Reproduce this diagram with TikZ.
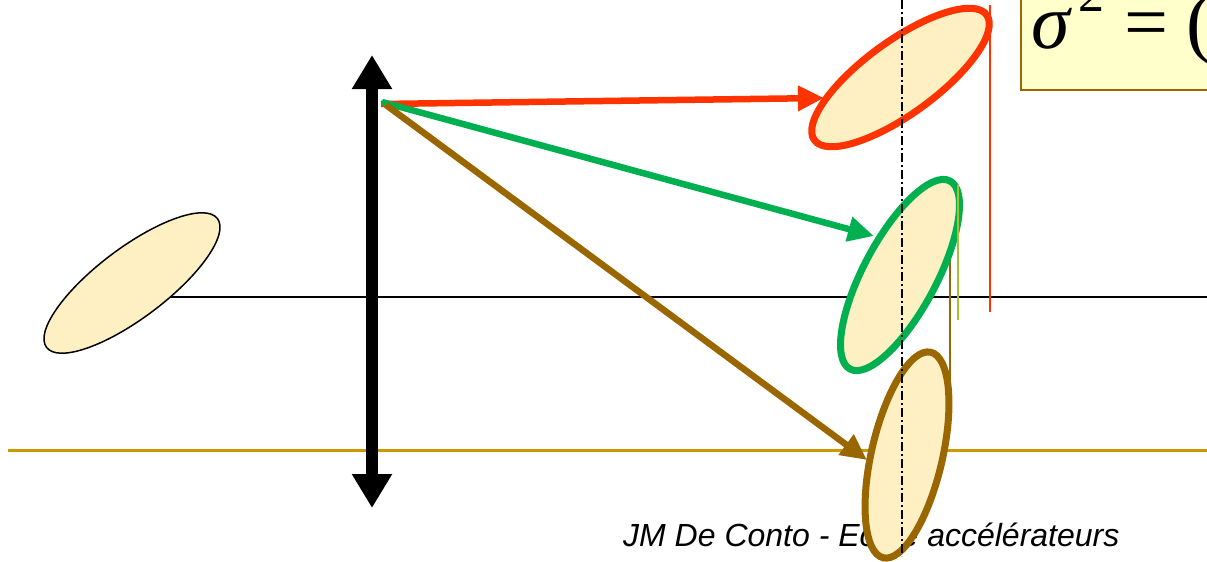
\documentclass[tikz,border=0pt]{standalone}
\usepackage{fontspec}
\setmainfont{Liberation Sans}
\newfontfamily\serifgr{Liberation Serif}
\usetikzlibrary{arrows.meta,shapes.geometric}
\definecolor{beam}{RGB}{255,240,195}
\definecolor{redc}{RGB}{255,51,0}
\definecolor{greenc}{RGB}{0,176,80}
\definecolor{brownc}{RGB}{153,102,0}
\definecolor{goldc}{RGB}{204,153,0}
\definecolor{olivec}{RGB}{170,190,50}
\definecolor{boxfill}{RGB}{255,255,204}
\tikzset{
  beamell/.style={ellipse, inner sep=0pt, fill=beam, line width=7pt},
  ray/.style={line width=6.5pt, -{Triangle[length=26pt,width=24pt]}},
  lensarrow/.style={line width=12pt, {Triangle[length=34pt,width=38pt]}-{Triangle[length=34pt,width=38pt]}},
  thinv/.style={line width=1.8pt},
}
\begin{document}
\begin{tikzpicture}[x=1pt,y=-1pt]
\useasboundingbox (0,0) rectangle (1207,562);
\clip (0,0) rectangle (1207,562);
% axes
\coordinate (axL) at (130,297);
\coordinate (axR) at (1207,297);
\coordinate (gL) at (8,450);
\coordinate (gR) at (1207,450);
\draw[line width=1.5pt] (axL) -- (axR);
\draw[goldc, line width=3pt] (gL) -- (gR);
% initial beam ellipse
\node[ellipse, inner sep=0pt, fill=beam, draw=black, line width=1.5pt,
      minimum width=214pt, minimum height=70pt, rotate=37] (e0) at (132,283) {};
% lens
\coordinate (lt) at (372,55);
\coordinate (lb) at (372,508);
\draw[lensarrow] (lb) -- (lt);
% footer text (behind ellipses)
\node[anchor=base west, inner sep=0pt, font=\fontsize{32}{36}\selectfont\itshape] (foot) at (623,546) {JM De Conto - Ecole accélérateurs};
% thin vertical line under brown ellipse
\coordinate (bt) at (950,257);
\coordinate (bb) at (950,430);
\draw[brownc, thinv] (bt) -- (bb);
% rays
\coordinate (s1) at (381,104);
\coordinate (s2) at (382,102);
\coordinate (s3) at (386,105);
\coordinate (t1) at (824,98);
\coordinate (t2) at (874,236);
\coordinate (t3) at (867,460);
\draw[ray, redc] (s1) -- (t1);
\draw[ray, greenc] (s2) -- (t2);
\draw[ray, brownc] (s3) -- (t3);
% output ellipses
\node[beamell, draw=redc, minimum width=213pt, minimum height=73pt, rotate=36] (er) at (900.5,77.5) {};
\node[beamell, draw=greenc, minimum width=213pt, minimum height=73pt, rotate=62] (eg) at (900,275) {};
\node[beamell, draw=brownc, minimum width=211pt, minimum height=71pt, rotate=77] (eb) at (907,455) {};
% dash-dot line
\coordinate (dt) at (902,0);
\coordinate (db) at (902,556);
\draw[line width=1.5pt, dash pattern=on 9pt off 3pt on 2pt off 3pt] (dt) -- (db);
% thin verticals
\coordinate (rt) at (990,5);
\coordinate (rb) at (990,312);
\draw[redc, thinv] (rt) -- (rb);
\coordinate (ot) at (958,185);
\coordinate (ob) at (958,320);
\draw[olivec, thinv] (ot) -- (ob);
% formula box
\node[draw=brownc, fill=boxfill, line width=2pt, minimum width=200pt, minimum height=100pt, anchor=south west, inner sep=0pt] (box) at (1020,91) {};
\node[anchor=base west, inner sep=0pt, font=\serifgr\fontsize{78}{84}\selectfont] (sig) at (1031,48) {\itshape σ\upshape\hspace{9pt}\raisebox{36pt}{\fontsize{52}{56}\selectfont 2}\hspace{20pt}=\hspace{18pt}(};
\end{tikzpicture}
\end{document}
